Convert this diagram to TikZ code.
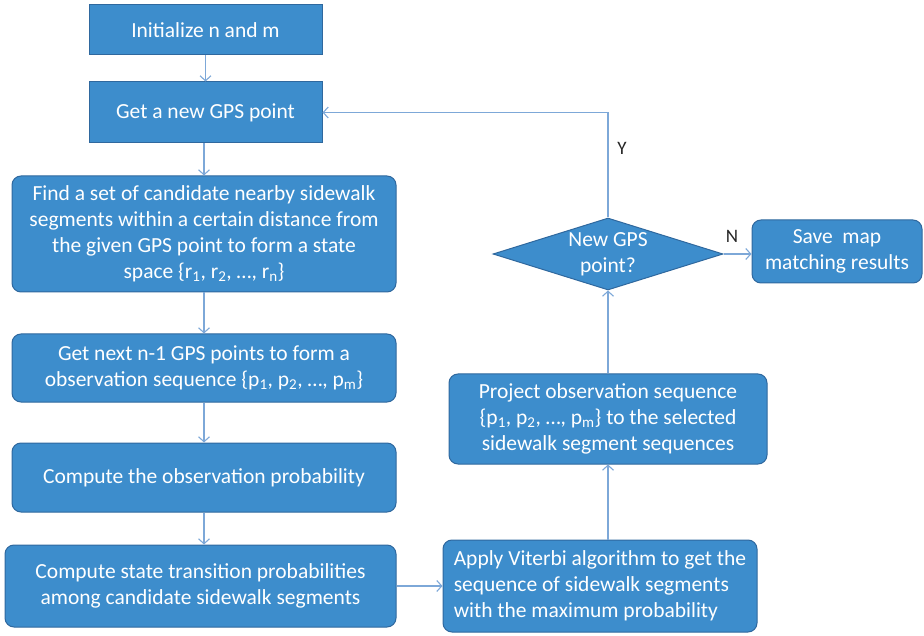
\documentclass[tikz,border=0pt]{standalone}
\usepackage{fontspec}
\setmainfont{Carlito}
\usetikzlibrary{arrows.meta,positioning,shapes.geometric}
\definecolor{fcblue}{RGB}{61,141,204}
\definecolor{fcedge}{RGB}{47,104,158}
\definecolor{fcline}{RGB}{125,168,216}
\newcommand{\sub}[1]{\textsubscript{#1}}
\tikzset{
  fcbox/.style={draw=fcedge,fill=fcblue,line width=1pt,text=white,align=center,
    inner sep=2pt,font=\fontsize{21.5}{26}\selectfont},
  fcround/.style={fcbox,rounded corners=9pt},
  fcdec/.style={fcbox,diamond,aspect=3.2,inner sep=0pt},
  fcflow/.style={-{Straight Barb[length=5pt,width=11pt]},draw=fcline,line width=1.1pt},
  fclabel/.style={font=\fontsize{19}{20}\selectfont,text=black!85},
}

\begin{document}
\begin{tikzpicture}[x=1pt,y=-1pt]
\useasboundingbox (0,0) rectangle (924,636);
% left column
\node[fcbox,minimum width=233pt,minimum height=50pt] (init) at (205.5,30) {Initialize n and m};
\node[fcbox,minimum width=233pt,minimum height=61pt] (gps) at (205.5,112.5) {Get a new GPS point};
\node[fcround,minimum width=384pt,minimum height=116pt] (find) at (204,234)
  {Find a set of candidate nearby sidewalk\\segments within a certain distance from\\the given GPS point to form a state\\space \{r\sub{1}, r\sub{2}, …, r\sub{n}\}};
\node[fcround,minimum width=384pt,minimum height=68pt] (next) at (204,368)
  {Get next n-1 GPS points to form a\\observation sequence \{p\sub{1}, p\sub{2}, …, p\sub{m}\}};
\node[fcround,minimum width=384pt,minimum height=69pt] (obs) at (204,477.5) {Compute the observation probability};
\node[fcround,minimum width=391pt,minimum height=82pt] (trans) at (200.5,586)
  {Compute state transition probabilities\\among candidate sidewalk segments};
% right column
\node[fcround,align=left,minimum width=314pt,minimum height=92pt] (vit) at (600,586)
  {Apply Viterbi algorithm to get the\\sequence of sidewalk segments\\with the maximum probability};
\node[fcround,minimum width=318pt,minimum height=90pt] (proj) at (608,419)
  {Project observation sequence\\\{p\sub{1}, p\sub{2}, …, p\sub{m}\} to the selected\\sidewalk segment sequences};
\node[fcdec,minimum width=230pt,minimum height=72pt] (dec) at (608,254) {New GPS\\point?};
\node[fcround,minimum width=170pt,minimum height=63pt] (save) at (837,251.5) {Save\ \ map\\matching results};
% connectors
\draw[fcflow] (init) -- (gps);
\draw[fcflow] (gps.south -| find.north) -- (find.north);
\draw[fcflow] (find) -- (next);
\draw[fcflow] (next) -- (obs);
\draw[fcflow] (obs) -- (obs.south |- trans.north);
\draw[fcflow] (trans.east) -- (trans.east -| vit.west);
\draw[fcflow] (vit.north -| proj.south) -- (proj.south);
\draw[fcflow] (proj) -- (dec);
\draw[fcflow] (dec.east) -- (dec.east -| save.west);
\draw[fcflow] (dec.north) |- (gps.east);
\node[fclabel] (ylab) at (622,148) {Y};
\node[fclabel] (nlab) at (732,236) {N};
\end{tikzpicture}
\end{document}
